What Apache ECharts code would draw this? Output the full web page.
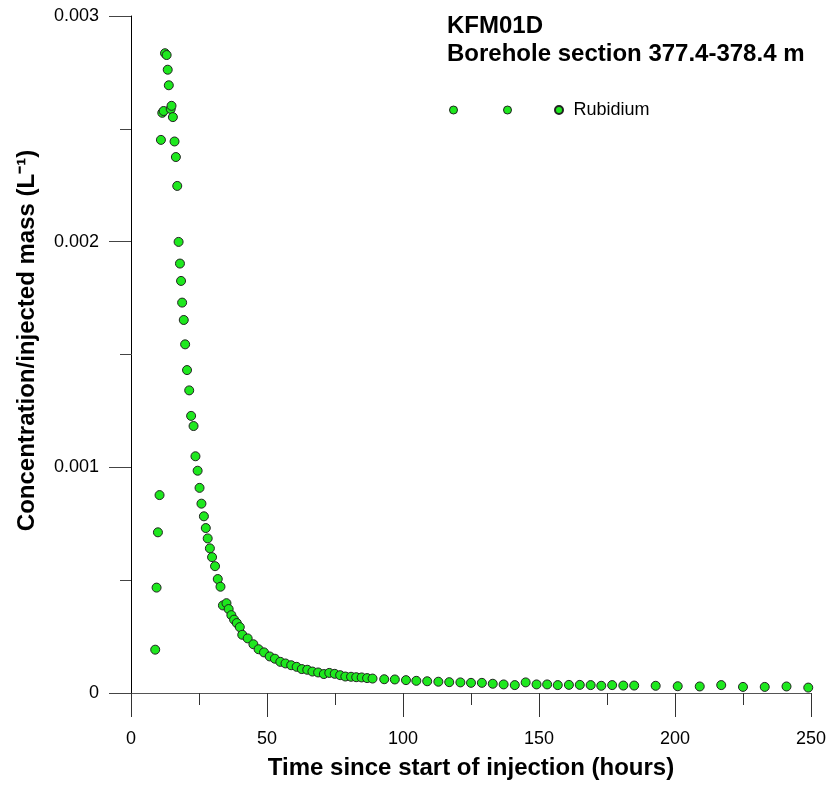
<!DOCTYPE html>
<html>
<head>
<meta charset="utf-8">
<script src="https://cdn.jsdelivr.net/npm/echarts@6/dist/echarts.min.js"></script>
<style>
  html, body { margin: 0; padding: 0; background: #fff; }
  #chart { width: 829px; height: 785px; }
</style>
</head>
<body>
<div id="chart"></div>
<script>
// time since start of injection (hours)
var timeHours = [
  8.9, 9.4, 9.9, 10.5, 11.0, 11.5, 12.0, 12.5, 13.1, 13.5, 13.9, 14.6, 14.9, 15.4,
  16.0, 16.5, 17.0, 17.5, 18.0, 18.4, 18.8, 19.4, 19.9, 20.6, 21.4, 22.1, 23.0,
  23.7, 24.5, 25.2, 25.9, 26.8, 27.5, 28.2, 29.0, 29.8, 30.9, 31.9, 32.9, 33.8,
  35.1, 35.9, 36.9, 37.9, 38.9, 40.0, 40.9, 42.9, 45.0, 46.9, 48.9, 51.0, 52.9,
  54.9, 56.8, 58.9, 60.9, 62.8, 64.8, 66.7, 68.8, 70.9, 72.9, 74.9, 76.9, 78.8,
  80.9, 82.8, 84.8, 86.8, 88.8, 93.1, 97.0, 101.1, 104.9, 108.9, 113.0, 117.0,
  121.1, 125.0, 129.0, 133.0, 137.0, 141.1, 145.1, 149.1, 153.0, 156.9, 161.0,
  165.0, 169.0, 172.9, 176.9, 181.0, 185.0, 192.9, 201.0, 209.1, 217.0, 225.0,
  233.0, 241.0, 249.0
];
// concentration / injected mass (L-1)
var concentration = [
  0.000192, 0.000467, 0.000712, 0.000877, 0.002451, 0.002571, 0.002579, 0.002835,
  0.002827, 0.002762, 0.002693, 0.002588, 0.002602, 0.002552, 0.002444, 0.002375,
  0.002247, 0.001999, 0.001903, 0.001826, 0.001730, 0.001653, 0.001545, 0.001431,
  0.001341, 0.001228, 0.001183, 0.001049, 0.000985, 0.000909, 0.000839, 0.000783,
  0.000731, 0.000685, 0.000641, 0.000602, 0.000562, 0.000505, 0.000471, 0.000388,
  0.000398, 0.000372, 0.000345, 0.000325, 0.000310, 0.000292, 0.000258, 0.000242,
  0.000216, 0.000194, 0.000180, 0.000162, 0.000152, 0.000138, 0.000131, 0.000123,
  0.000116, 0.000106, 0.000103, 0.000095, 0.000091, 0.000084, 0.000089, 0.000085,
  0.000079, 0.000073, 0.000072, 0.000070, 0.000069, 0.000066, 0.000064, 0.000061,
  0.000060, 0.000057, 0.000054, 0.000052, 0.000050, 0.000048, 0.000047, 0.000045,
  0.000045, 0.000041, 0.000038, 0.000035, 0.000047, 0.000038, 0.000038, 0.000035,
  0.000036, 0.000036, 0.000035, 0.000032, 0.000035, 0.000033, 0.000033, 0.000032,
  0.000030, 0.000029, 0.000035, 0.000027, 0.000027, 0.000029, 0.000024
];
var seriesName = 'Rubidium';
var titleLines = ['KFM01D', 'Borehole section 377.4-378.4 m'];

var points = [];
for (var i = 0; i < timeHours.length; i++) {
  points.push([timeHours[i], concentration[i]]);
}

var font = 'Liberation Sans, Arial, sans-serif';
var green = '#1ee81e';
var myChart = echarts.init(document.getElementById('chart'));

var option = {
  animation: false,
  grid: { left: 131, right: 16, top: 16, bottom: 92 },
  title: {
    text: titleLines.join('\n'),
    left: 447,
    top: 12,
    padding: 0,
    textStyle: { fontFamily: font, fontSize: 24, fontWeight: 'bold', color: '#000', lineHeight: 28.5 }
  },
  legend: {
    left: 554,
    top: 101,
    padding: 0,
    itemWidth: 19,
    itemHeight: 8,
    data: [{ name: seriesName, icon: 'circle' }],
    textStyle: { fontFamily: font, fontSize: 18, color: '#000' }
  },
  graphic: [
    { type: 'circle', shape: { cx: 453.5, cy: 110, r: 4 }, style: { fill: green, stroke: '#222', lineWidth: 1 } },
    { type: 'circle', shape: { cx: 507.5, cy: 110, r: 4 }, style: { fill: green, stroke: '#222', lineWidth: 1 } }
  ],
  xAxis: {
    type: 'value',
    min: 0,
    max: 250,
    interval: 50,
    name: 'Time since start of injection (hours)',
    nameLocation: 'middle',
    nameGap: 63,
    nameTextStyle: { fontFamily: font, fontSize: 24, fontWeight: 'bold', color: '#000' },
    axisLine: { onZero: false, lineStyle: { color: '#555', width: 1 } },
    axisTick: { length: 24, lineStyle: { color: '#333' } },
    minorTick: { show: true, splitNumber: 2, length: 12, lineStyle: { color: '#333' } },
    splitLine: { show: false },
    axisLabel: { fontFamily: font, fontSize: 18, color: '#000', margin: 37 }
  },
  yAxis: {
    type: 'value',
    min: 0,
    max: 0.003,
    interval: 0.001,
    name: 'Concentration/injected mass (L\u207B\u00B9)',
    nameLocation: 'middle',
    nameRotate: 90,
    nameGap: 92,
    nameTextStyle: {
      fontFamily: font, fontSize: 24, fontWeight: 'bold', color: '#000',
      padding: [0, 0, 0, 28]
    },
    axisLine: { show: true, onZero: false, lineStyle: { color: '#000', width: 1 } },
    axisTick: { show: true, length: 22, lineStyle: { color: '#444' } },
    minorTick: { show: true, splitNumber: 2, length: 11, lineStyle: { color: '#444' } },
    splitLine: { show: false },
    axisLabel: {
      fontFamily: font, fontSize: 18, color: '#000', margin: 32,
      formatter: function (v) { return v === 0 ? '0' : v.toFixed(3); }
    }
  },
  series: [{
    name: seriesName,
    type: 'scatter',
    symbol: 'circle',
    symbolSize: 9,
    data: points,
    itemStyle: { color: green, borderColor: '#222', borderWidth: 1, opacity: 1 }
  }]
};

myChart.setOption(option);
</script>
</body>
</html>
